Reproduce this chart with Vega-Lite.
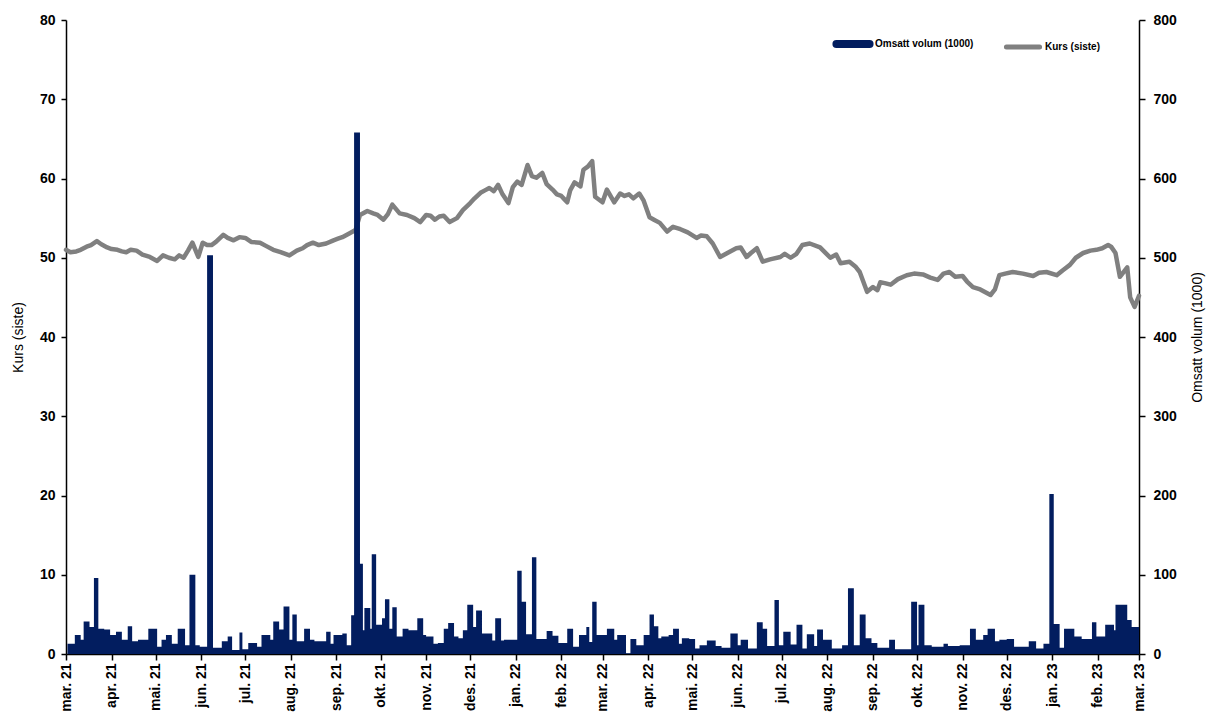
{
 "$schema": "https://vega.github.io/schema/vega-lite/v6.json",
 "width": 1073,
 "height": 634,
 "autosize": {"type": "none"},
 "padding": {"left": 66, "top": 20, "right": 72, "bottom": 68},
 "background": "white",
 "config": {
  "view": {"stroke": null},
  "font": "Liberation Sans",
  "axis": {"grid": false, "domainColor": "black", "tickColor": "black", "labelColor": "black", "titleColor": "black", "labelFont": "Liberation Sans", "titleFont": "Liberation Sans", "labelFontWeight": "bold", "labelFontSize": 14, "titleFontWeight": "normal", "titleFontSize": 14, "domainWidth": 1.5, "tickWidth": 1.5, "tickSize": 5}
 },
 "datasets": {
  "kurs": [
   {"dato": "2021-03-01", "kurs": 51.0}, {"dato": "2021-03-04", "kurs": 50.7}, {"dato": "2021-03-08", "kurs": 50.8}, {"dato": "2021-03-11", "kurs": 51.0}, {"dato": "2021-03-15", "kurs": 51.4}, {"dato": "2021-03-18", "kurs": 51.6}, {"dato": "2021-03-22", "kurs": 52.1},
   {"dato": "2021-03-25", "kurs": 51.7}, {"dato": "2021-03-29", "kurs": 51.3}, {"dato": "2021-04-01", "kurs": 51.1}, {"dato": "2021-04-05", "kurs": 51.0}, {"dato": "2021-04-08", "kurs": 50.8}, {"dato": "2021-04-11", "kurs": 50.7}, {"dato": "2021-04-14", "kurs": 51.0}, {"dato": "2021-04-18", "kurs": 50.9},
   {"dato": "2021-04-22", "kurs": 50.4}, {"dato": "2021-04-27", "kurs": 50.1}, {"dato": "2021-05-02", "kurs": 49.6}, {"dato": "2021-05-06", "kurs": 50.3}, {"dato": "2021-05-10", "kurs": 50.0}, {"dato": "2021-05-14", "kurs": 49.8}, {"dato": "2021-05-17", "kurs": 50.3}, {"dato": "2021-05-20", "kurs": 50.0},
   {"dato": "2021-05-23", "kurs": 50.9}, {"dato": "2021-05-26", "kurs": 51.9}, {"dato": "2021-05-30", "kurs": 50.1}, {"dato": "2021-06-02", "kurs": 51.9}, {"dato": "2021-06-05", "kurs": 51.6}, {"dato": "2021-06-08", "kurs": 51.6}, {"dato": "2021-06-11", "kurs": 52.0},
   {"dato": "2021-06-16", "kurs": 52.9}, {"dato": "2021-06-19", "kurs": 52.5}, {"dato": "2021-06-23", "kurs": 52.2}, {"dato": "2021-06-27", "kurs": 52.6}, {"dato": "2021-07-01", "kurs": 52.5}, {"dato": "2021-07-05", "kurs": 52.0}, {"dato": "2021-07-11", "kurs": 51.9}, {"dato": "2021-07-15", "kurs": 51.5},
   {"dato": "2021-07-20", "kurs": 51.0}, {"dato": "2021-07-25", "kurs": 50.7}, {"dato": "2021-07-31", "kurs": 50.3}, {"dato": "2021-08-05", "kurs": 50.9}, {"dato": "2021-08-09", "kurs": 51.2}, {"dato": "2021-08-12", "kurs": 51.6}, {"dato": "2021-08-16", "kurs": 51.9},
   {"dato": "2021-08-20", "kurs": 51.6}, {"dato": "2021-08-25", "kurs": 51.8}, {"dato": "2021-08-30", "kurs": 52.2}, {"dato": "2021-09-02", "kurs": 52.4}, {"dato": "2021-09-05", "kurs": 52.6}, {"dato": "2021-09-10", "kurs": 53.1},
   {"dato": "2021-09-14", "kurs": 53.5}, {"dato": "2021-09-17", "kurs": 55.4}, {"dato": "2021-09-22", "kurs": 55.9}, {"dato": "2021-09-26", "kurs": 55.6}, {"dato": "2021-09-29", "kurs": 55.4},
   {"dato": "2021-10-03", "kurs": 54.8}, {"dato": "2021-10-06", "kurs": 55.5}, {"dato": "2021-10-09", "kurs": 56.7}, {"dato": "2021-10-14", "kurs": 55.6}, {"dato": "2021-10-19", "kurs": 55.4}, {"dato": "2021-10-24", "kurs": 55.0},
   {"dato": "2021-10-28", "kurs": 54.5}, {"dato": "2021-11-01", "kurs": 55.4}, {"dato": "2021-11-04", "kurs": 55.3}, {"dato": "2021-11-07", "kurs": 54.8}, {"dato": "2021-11-10", "kurs": 55.2}, {"dato": "2021-11-13", "kurs": 55.3}, {"dato": "2021-11-17", "kurs": 54.5},
   {"dato": "2021-11-22", "kurs": 55.0}, {"dato": "2021-11-26", "kurs": 56.0}, {"dato": "2021-12-01", "kurs": 56.9}, {"dato": "2021-12-04", "kurs": 57.5}, {"dato": "2021-12-08", "kurs": 58.2}, {"dato": "2021-12-11", "kurs": 58.5}, {"dato": "2021-12-14", "kurs": 58.8},
   {"dato": "2021-12-17", "kurs": 58.4}, {"dato": "2021-12-20", "kurs": 59.2}, {"dato": "2021-12-23", "kurs": 58.0}, {"dato": "2021-12-27", "kurs": 56.9}, {"dato": "2021-12-30", "kurs": 58.9}, {"dato": "2022-01-02", "kurs": 59.6}, {"dato": "2022-01-05", "kurs": 59.2},
   {"dato": "2022-01-09", "kurs": 61.7}, {"dato": "2022-01-12", "kurs": 60.3}, {"dato": "2022-01-15", "kurs": 60.1}, {"dato": "2022-01-19", "kurs": 60.7}, {"dato": "2022-01-22", "kurs": 59.3}, {"dato": "2022-01-26", "kurs": 58.6},
   {"dato": "2022-01-29", "kurs": 58.0}, {"dato": "2022-02-01", "kurs": 57.8}, {"dato": "2022-02-03", "kurs": 57.4}, {"dato": "2022-02-05", "kurs": 57.0}, {"dato": "2022-02-07", "kurs": 58.5}, {"dato": "2022-02-10", "kurs": 59.5}, {"dato": "2022-02-14", "kurs": 59.0},
   {"dato": "2022-02-16", "kurs": 61.1}, {"dato": "2022-02-19", "kurs": 61.5}, {"dato": "2022-02-22", "kurs": 62.2}, {"dato": "2022-02-24", "kurs": 57.7}, {"dato": "2022-03-01", "kurs": 57.0},
   {"dato": "2022-03-04", "kurs": 58.6}, {"dato": "2022-03-09", "kurs": 57.0}, {"dato": "2022-03-13", "kurs": 58.1}, {"dato": "2022-03-16", "kurs": 57.8}, {"dato": "2022-03-19", "kurs": 58.0}, {"dato": "2022-03-22", "kurs": 57.5},
   {"dato": "2022-03-26", "kurs": 58.1}, {"dato": "2022-03-29", "kurs": 57.2}, {"dato": "2022-04-02", "kurs": 55.1}, {"dato": "2022-04-05", "kurs": 54.8}, {"dato": "2022-04-09", "kurs": 54.4}, {"dato": "2022-04-14", "kurs": 53.3}, {"dato": "2022-04-18", "kurs": 53.9},
   {"dato": "2022-04-23", "kurs": 53.6}, {"dato": "2022-04-28", "kurs": 53.2}, {"dato": "2022-05-04", "kurs": 52.5}, {"dato": "2022-05-07", "kurs": 52.8}, {"dato": "2022-05-11", "kurs": 52.7}, {"dato": "2022-05-15", "kurs": 51.8}, {"dato": "2022-05-20", "kurs": 50.1},
   {"dato": "2022-05-25", "kurs": 50.6}, {"dato": "2022-05-31", "kurs": 51.2}, {"dato": "2022-06-03", "kurs": 51.3}, {"dato": "2022-06-07", "kurs": 50.1}, {"dato": "2022-06-10", "kurs": 50.6}, {"dato": "2022-06-14", "kurs": 51.2}, {"dato": "2022-06-18", "kurs": 49.5},
   {"dato": "2022-06-23", "kurs": 49.8}, {"dato": "2022-06-30", "kurs": 50.1}, {"dato": "2022-07-03", "kurs": 50.5}, {"dato": "2022-07-07", "kurs": 50.0}, {"dato": "2022-07-11", "kurs": 50.5}, {"dato": "2022-07-15", "kurs": 51.6}, {"dato": "2022-07-20", "kurs": 51.8}, {"dato": "2022-07-27", "kurs": 51.3},
   {"dato": "2022-08-03", "kurs": 50.0}, {"dato": "2022-08-07", "kurs": 50.4}, {"dato": "2022-08-10", "kurs": 49.3}, {"dato": "2022-08-16", "kurs": 49.5}, {"dato": "2022-08-20", "kurs": 48.9}, {"dato": "2022-08-23", "kurs": 48.2},
   {"dato": "2022-08-28", "kurs": 45.7}, {"dato": "2022-09-01", "kurs": 46.3}, {"dato": "2022-09-04", "kurs": 45.9}, {"dato": "2022-09-06", "kurs": 46.9}, {"dato": "2022-09-09", "kurs": 46.8}, {"dato": "2022-09-13", "kurs": 46.6}, {"dato": "2022-09-18", "kurs": 47.3},
   {"dato": "2022-09-24", "kurs": 47.8}, {"dato": "2022-09-29", "kurs": 48.0}, {"dato": "2022-10-05", "kurs": 47.9}, {"dato": "2022-10-10", "kurs": 47.5}, {"dato": "2022-10-15", "kurs": 47.2}, {"dato": "2022-10-19", "kurs": 48.0}, {"dato": "2022-10-23", "kurs": 48.2},
   {"dato": "2022-10-27", "kurs": 47.6}, {"dato": "2022-11-01", "kurs": 47.7}, {"dato": "2022-11-04", "kurs": 47.0}, {"dato": "2022-11-08", "kurs": 46.3}, {"dato": "2022-11-13", "kurs": 46.0}, {"dato": "2022-11-20", "kurs": 45.3}, {"dato": "2022-11-23", "kurs": 46.0}, {"dato": "2022-11-26", "kurs": 47.8},
   {"dato": "2022-11-30", "kurs": 48.0}, {"dato": "2022-12-05", "kurs": 48.2}, {"dato": "2022-12-12", "kurs": 48.0}, {"dato": "2022-12-19", "kurs": 47.7}, {"dato": "2022-12-23", "kurs": 48.1}, {"dato": "2022-12-28", "kurs": 48.2}, {"dato": "2023-01-04", "kurs": 47.8},
   {"dato": "2023-01-08", "kurs": 48.4}, {"dato": "2023-01-13", "kurs": 49.1}, {"dato": "2023-01-17", "kurs": 50.0}, {"dato": "2023-01-22", "kurs": 50.6}, {"dato": "2023-01-27", "kurs": 50.9}, {"dato": "2023-01-31", "kurs": 51.0}, {"dato": "2023-02-04", "kurs": 51.2}, {"dato": "2023-02-08", "kurs": 51.6},
   {"dato": "2023-02-10", "kurs": 51.4}, {"dato": "2023-02-13", "kurs": 50.6}, {"dato": "2023-02-16", "kurs": 47.6}, {"dato": "2023-02-21", "kurs": 48.8}, {"dato": "2023-02-23", "kurs": 45.0},
   {"dato": "2023-02-26", "kurs": 43.8}, {"dato": "2023-03-01", "kurs": 45.2}
  ],
  "volum": [
   {"dato": "2021-03-02", "volum": 13}, {"dato": "2021-03-07", "volum": 24}, {"dato": "2021-03-11", "volum": 18}, {"dato": "2021-03-13", "volum": 41},
   {"dato": "2021-03-17", "volum": 34}, {"dato": "2021-03-20", "volum": 96}, {"dato": "2021-03-23", "volum": 32}, {"dato": "2021-03-27", "volum": 31},
   {"dato": "2021-03-31", "volum": 24}, {"dato": "2021-04-04", "volum": 28}, {"dato": "2021-04-08", "volum": 18}, {"dato": "2021-04-12", "volum": 35},
   {"dato": "2021-04-15", "volum": 16}, {"dato": "2021-04-19", "volum": 18}, {"dato": "2021-04-26", "volum": 32}, {"dato": "2021-05-02", "volum": 9},
   {"dato": "2021-05-05", "volum": 18}, {"dato": "2021-05-08", "volum": 24}, {"dato": "2021-05-12", "volum": 13}, {"dato": "2021-05-16", "volum": 32},
   {"dato": "2021-05-21", "volum": 11}, {"dato": "2021-05-24", "volum": 100}, {"dato": "2021-05-28", "volum": 11}, {"dato": "2021-05-31", "volum": 9},
   {"dato": "2021-06-05", "volum": 503}, {"dato": "2021-06-09", "volum": 8}, {"dato": "2021-06-15", "volum": 16}, {"dato": "2021-06-19", "volum": 22},
   {"dato": "2021-06-22", "volum": 5}, {"dato": "2021-06-27", "volum": 27}, {"dato": "2021-06-29", "volum": 6}, {"dato": "2021-07-03", "volum": 14},
   {"dato": "2021-07-09", "volum": 9}, {"dato": "2021-07-12", "volum": 24}, {"dato": "2021-07-18", "volum": 18}, {"dato": "2021-07-20", "volum": 41},
   {"dato": "2021-07-24", "volum": 31}, {"dato": "2021-07-27", "volum": 60}, {"dato": "2021-07-31", "volum": 18}, {"dato": "2021-08-02", "volum": 50},
   {"dato": "2021-08-05", "volum": 16}, {"dato": "2021-08-10", "volum": 32}, {"dato": "2021-08-14", "volum": 18}, {"dato": "2021-08-17", "volum": 16},
   {"dato": "2021-08-25", "volum": 28}, {"dato": "2021-08-28", "volum": 13}, {"dato": "2021-08-30", "volum": 24}, {"dato": "2021-09-05", "volum": 26},
   {"dato": "2021-09-08", "volum": 11}, {"dato": "2021-09-11", "volum": 49}, {"dato": "2021-09-13", "volum": 658}, {"dato": "2021-09-17", "volum": 114},
   {"dato": "2021-09-19", "volum": 30}, {"dato": "2021-09-20", "volum": 58}, {"dato": "2021-09-24", "volum": 32}, {"dato": "2021-09-25", "volum": 126},
   {"dato": "2021-09-28", "volum": 37}, {"dato": "2021-10-02", "volum": 45}, {"dato": "2021-10-04", "volum": 69}, {"dato": "2021-10-07", "volum": 32},
   {"dato": "2021-10-09", "volum": 59}, {"dato": "2021-10-12", "volum": 22}, {"dato": "2021-10-16", "volum": 32}, {"dato": "2021-10-20", "volum": 30},
   {"dato": "2021-10-26", "volum": 45}, {"dato": "2021-10-30", "volum": 24}, {"dato": "2021-11-01", "volum": 22}, {"dato": "2021-11-06", "volum": 13},
   {"dato": "2021-11-09", "volum": 14}, {"dato": "2021-11-13", "volum": 32}, {"dato": "2021-11-16", "volum": 39}, {"dato": "2021-11-20", "volum": 22},
   {"dato": "2021-11-23", "volum": 20}, {"dato": "2021-11-26", "volum": 30}, {"dato": "2021-11-29", "volum": 62}, {"dato": "2021-12-03", "volum": 34},
   {"dato": "2021-12-05", "volum": 55}, {"dato": "2021-12-09", "volum": 26}, {"dato": "2021-12-16", "volum": 17}, {"dato": "2021-12-18", "volum": 45},
   {"dato": "2021-12-22", "volum": 17}, {"dato": "2021-12-24", "volum": 18}, {"dato": "2022-01-02", "volum": 105}, {"dato": "2022-01-05", "volum": 66},
   {"dato": "2022-01-08", "volum": 25}, {"dato": "2022-01-12", "volum": 122}, {"dato": "2022-01-15", "volum": 19}, {"dato": "2022-01-22", "volum": 29},
   {"dato": "2022-01-26", "volum": 23}, {"dato": "2022-01-30", "volum": 14}, {"dato": "2022-02-05", "volum": 32}, {"dato": "2022-02-09", "volum": 9},
   {"dato": "2022-02-13", "volum": 24}, {"dato": "2022-02-18", "volum": 34}, {"dato": "2022-02-20", "volum": 15}, {"dato": "2022-02-22", "volum": 66},
   {"dato": "2022-02-25", "volum": 24}, {"dato": "2022-03-04", "volum": 32}, {"dato": "2022-03-09", "volum": 18}, {"dato": "2022-03-11", "volum": 24},
   {"dato": "2022-03-17", "volum": 1}, {"dato": "2022-03-20", "volum": 19}, {"dato": "2022-03-24", "volum": 11}, {"dato": "2022-03-29", "volum": 24},
   {"dato": "2022-04-02", "volum": 50}, {"dato": "2022-04-05", "volum": 35}, {"dato": "2022-04-08", "volum": 20}, {"dato": "2022-04-10", "volum": 22},
   {"dato": "2022-04-15", "volum": 24}, {"dato": "2022-04-18", "volum": 32}, {"dato": "2022-04-22", "volum": 13}, {"dato": "2022-04-24", "volum": 20},
   {"dato": "2022-04-29", "volum": 19}, {"dato": "2022-05-03", "volum": 7}, {"dato": "2022-05-06", "volum": 11}, {"dato": "2022-05-11", "volum": 17},
   {"dato": "2022-05-17", "volum": 10}, {"dato": "2022-05-21", "volum": 8}, {"dato": "2022-05-27", "volum": 26}, {"dato": "2022-06-01", "volum": 11},
   {"dato": "2022-06-03", "volum": 18}, {"dato": "2022-06-08", "volum": 7}, {"dato": "2022-06-14", "volum": 40}, {"dato": "2022-06-18", "volum": 32},
   {"dato": "2022-06-21", "volum": 10}, {"dato": "2022-06-26", "volum": 68}, {"dato": "2022-06-29", "volum": 11}, {"dato": "2022-07-02", "volum": 28},
   {"dato": "2022-07-07", "volum": 12}, {"dato": "2022-07-11", "volum": 37}, {"dato": "2022-07-15", "volum": 7}, {"dato": "2022-07-18", "volum": 25},
   {"dato": "2022-07-23", "volum": 10}, {"dato": "2022-07-25", "volum": 31}, {"dato": "2022-07-29", "volum": 18}, {"dato": "2022-08-04", "volum": 7},
   {"dato": "2022-08-11", "volum": 11}, {"dato": "2022-08-15", "volum": 83}, {"dato": "2022-08-19", "volum": 11}, {"dato": "2022-08-23", "volum": 50},
   {"dato": "2022-08-27", "volum": 20}, {"dato": "2022-08-31", "volum": 14}, {"dato": "2022-09-04", "volum": 8}, {"dato": "2022-09-12", "volum": 18},
   {"dato": "2022-09-16", "volum": 6}, {"dato": "2022-09-27", "volum": 66}, {"dato": "2022-10-01", "volum": 11}, {"dato": "2022-10-02", "volum": 62},
   {"dato": "2022-10-06", "volum": 11}, {"dato": "2022-10-11", "volum": 9}, {"dato": "2022-10-19", "volum": 13}, {"dato": "2022-10-22", "volum": 10},
   {"dato": "2022-10-30", "volum": 11}, {"dato": "2022-11-06", "volum": 32}, {"dato": "2022-11-10", "volum": 18}, {"dato": "2022-11-15", "volum": 24},
   {"dato": "2022-11-18", "volum": 32}, {"dato": "2022-11-23", "volum": 16}, {"dato": "2022-11-26", "volum": 18}, {"dato": "2022-12-01", "volum": 19},
   {"dato": "2022-12-06", "volum": 9}, {"dato": "2022-12-16", "volum": 16}, {"dato": "2022-12-21", "volum": 7}, {"dato": "2022-12-26", "volum": 13},
   {"dato": "2022-12-30", "volum": 202}, {"dato": "2023-01-02", "volum": 38}, {"dato": "2023-01-06", "volum": 8}, {"dato": "2023-01-09", "volum": 32},
   {"dato": "2023-01-16", "volum": 22}, {"dato": "2023-01-21", "volum": 19}, {"dato": "2023-01-28", "volum": 40}, {"dato": "2023-01-31", "volum": 22},
   {"dato": "2023-02-06", "volum": 37}, {"dato": "2023-02-12", "volum": 30}, {"dato": "2023-02-13", "volum": 62}, {"dato": "2023-02-21", "volum": 43},
   {"dato": "2023-02-24", "volum": 34}, {"dato": "2023-03-01", "volum": 34}
  ]
 },
 "layer": [
  {
   "data": {"name": "kurs"},
   "mark": {"type": "line", "strokeWidth": 4.5, "strokeJoin": "round", "strokeCap": "round"},
   "encoding": {
    "x": {"field": "dato", "type": "temporal",
     "scale": {"type": "utc", "domain": [{"year": 2021, "month": 3, "date": 1, "utc": true}, {"year": 2023, "month": 3, "date": 1, "utc": true}]},
     "axis": {"title": null, "labelAngle": 270, "tickCount": {"interval": "month", "step": 1}, "labelOverlap": false, "labelFlush": false, "tickSize": 6, "labelPadding": 3,
      "labelExpr": "['jan','feb','mar','apr','mai','jun','jul','aug','sep','okt','nov','des'][utcmonth(datum.value)] + '. ' + utcFormat(datum.value, '%y')"}},
    "y": {"field": "kurs", "type": "quantitative", "scale": {"domain": [0, 80]},
     "axis": {"orient": "left", "title": "Kurs (siste)", "values": [0, 10, 20, 30, 40, 50, 60, 70, 80], "titlePadding": 14, "labelPadding": 6}},
    "color": {"datum": "Kurs (siste)", "type": "nominal",
     "scale": {"domain": ["Omsatt volum (1000)", "Kurs (siste)"], "range": ["#021d5f", "#808080"]},
     "legend": {"orient": "none", "legendX": 782, "legendY": 19, "direction": "horizontal", "title": null,
      "symbolType": "stroke", "symbolSize": 1100, "symbolStrokeWidth": 6, "labelFontSize": 10, "labelFontWeight": "bold", "labelFont": "Liberation Sans", "labelColor": "black", "columnPadding": 22, "labelOffset": 17,
      "encode": {"symbols": {"update": {"stroke": {"scale": "color", "field": "value"}, "strokeWidth": {"signal": "datum.value === 'Kurs (siste)' ? 5 : 8"}, "strokeCap": {"value": "round"}}}}}}
   }
  },
  {
   "data": {"name": "volum"},
   "mark": {"type": "area", "interpolate": "step-after"},
   "encoding": {
    "x": {"field": "dato", "type": "temporal"},
    "y": {"field": "volum", "type": "quantitative", "scale": {"domain": [0, 800]},
     "axis": {"orient": "right", "title": "Omsatt volum (1000)", "values": [0, 100, 200, 300, 400, 500, 600, 700, 800], "titleAngle": 270, "titlePadding": 28, "labelPadding": 8, "tickSize": 6}},
    "color": {"datum": "Omsatt volum (1000)", "type": "nominal"}
   }
  }
 ],
 "resolve": {"scale": {"y": "independent"}}
}
